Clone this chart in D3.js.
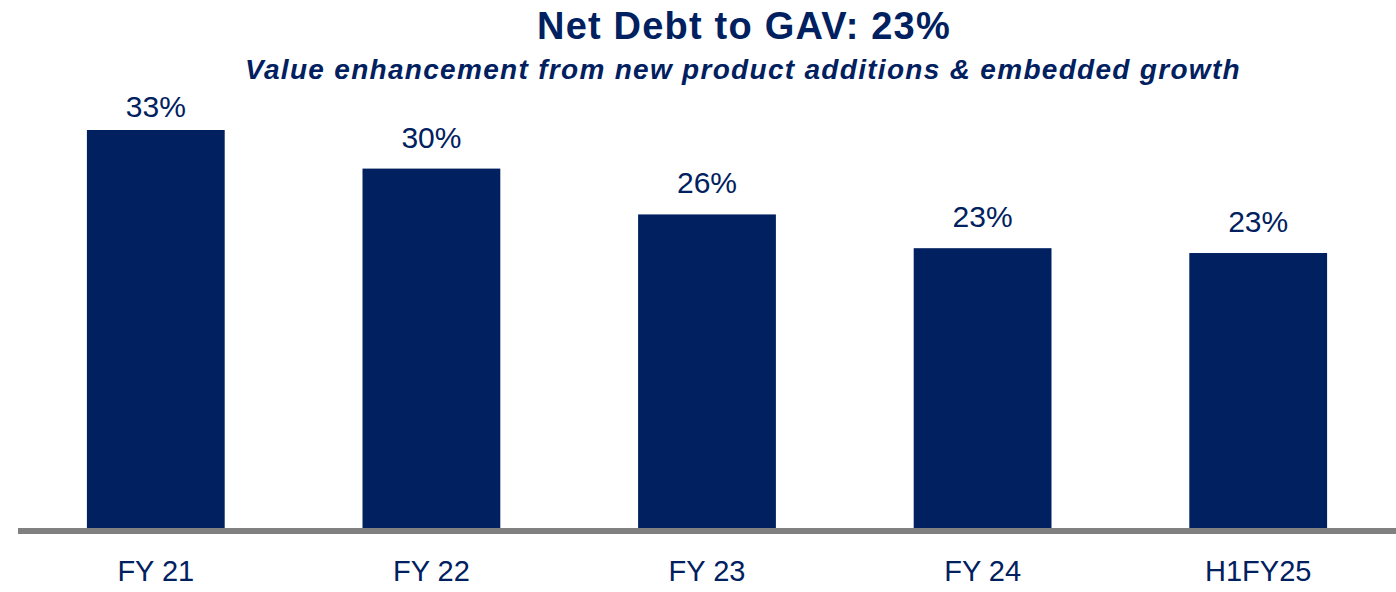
<!DOCTYPE html>
<html>
<head>
<meta charset="utf-8">
<script src="https://cdn.jsdelivr.net/npm/d3@7"></script>
<style>
  body { margin: 0; background: #fff; }
  svg { display: block; font-family: "Liberation Sans", Arial, sans-serif; }
</style>
</head>
<body>
<div id="chart"></div>
<script>
// chart data
var categories = ["FY 21", "FY 22", "FY 23", "FY 24", "H1FY25"];
var values = [33.0, 29.8, 26.0, 23.2, 22.8]; // net debt to GAV, %
var valueLabels = ["33%", "30%", "26%", "23%", "23%"];

var titleText = "Net Debt to GAV: 23%";
var subtitleText = "Value enhancement from new product additions & embedded growth";

function init() {
    var w = 1396, h = 592;
    var navy = "#002060";
    var baseY = 528; // bottom of the bars
    var topY = 130;  // top of the tallest bar

    var data = categories.map(function (c, i) {
        return { cat: c, value: values[i], label: valueLabels[i] };
    });

    var svg = d3.select("#chart").append("svg")
        .attr("width", w)
        .attr("height", h);

    var xScale = d3.scaleBand()
        .domain(categories)
        .range([18, 1396])
        .paddingInner(0.5)
        .paddingOuter(0.25);

    var yScale = d3.scaleLinear()
        .domain([0, d3.max(values)])
        .range([baseY, topY]);

    // title + subtitle
    svg.append("text")
        .attr("x", 744)
        .attr("y", 39)
        .attr("text-anchor", "middle")
        .attr("fill", navy)
        .style("font-weight", "bold")
        .style("font-size", "38px")
        .style("letter-spacing", "1.2px")
        .text(titleText);

    svg.append("text")
        .attr("x", 743)
        .attr("y", 79)
        .attr("text-anchor", "middle")
        .attr("fill", navy)
        .style("font-weight", "bold")
        .style("font-style", "italic")
        .style("font-size", "28px")
        .style("letter-spacing", "1.3px")
        .text(subtitleText);

    // bars
    svg.selectAll("rect.bar")
        .data(data)
        .enter()
        .append("rect")
        .attr("class", "bar")
        .attr("x", d => xScale(d.cat))
        .attr("y", d => yScale(d.value))
        .attr("width", xScale.bandwidth())
        .attr("height", d => baseY - yScale(d.value))
        .attr("fill", navy);

    // value labels (the first one is squeezed under the subtitle)
    svg.selectAll("text.val")
        .data(data)
        .enter()
        .append("text")
        .attr("class", "val")
        .attr("x", d => xScale(d.cat) + xScale.bandwidth() / 2)
        .attr("y", d => Math.max(yScale(d.value) - 21, 117))
        .attr("text-anchor", "middle")
        .attr("fill", navy)
        .style("font-size", "30px")
        .text(d => d.label);

    // x axis: thick grey baseline, no ticks
    var xAxis = d3.axisBottom(xScale).tickSize(0).tickPadding(0);
    var axisG = svg.append("g")
        .attr("transform", "translate(0," + (baseY + 3) + ")")
        .call(xAxis);

    axisG.select(".domain")
        .attr("d", "M18,0H1396")
        .attr("stroke", "#808080")
        .attr("stroke-width", 6);

    axisG.selectAll("text")
        .attr("y", 50)
        .attr("dy", 0)
        .attr("fill", navy)
        .style("font-family", "\"Liberation Sans\", Arial, sans-serif")
        .style("font-size", "29px");
}

window.onload = init;
</script>
</body>
</html>
